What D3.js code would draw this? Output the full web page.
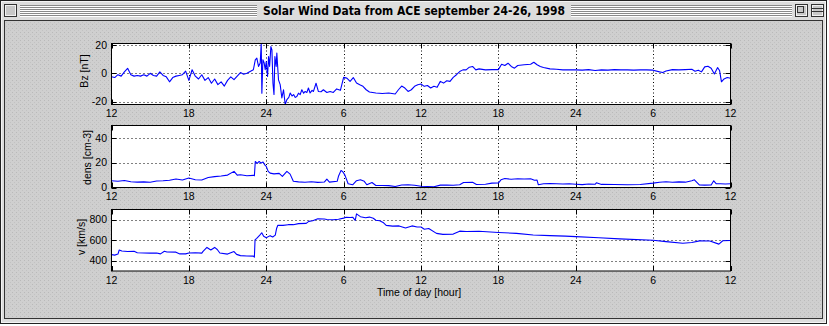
<!DOCTYPE html>
<html><head><meta charset="utf-8">
<script src="https://cdn.jsdelivr.net/npm/d3@7"></script>
<style>body{margin:0;background:#fff;}svg{display:block;}</style>
</head><body>
<script>
// ---------------- DATA ----------------
const title = "Solar Wind Data from ACE september 24-26, 1998";
const xTickValues = [0,6,12,18,24,30,36,42,48];           // hours since 12:00 Sep 24
const xTickLabels = ["12","18","24","6","12","18","24","6","12"];
const xAxisTitle = "Time of day [hour]";

const bzTime = [0,0.25,0.5,0.75,1,1.25,1.5,1.75,2,2.25,2.5,2.75,3,3.25,3.5,3.75,4,4.25,4.5,4.75,5,5.25,5.5,5.75,6,
6.25,6.5,6.75,7,7.25,7.5,7.75,8,8.25,8.5,8.75,9,9.25,9.5,9.75,10,10.25,10.5,10.75,11,
11.15,11.27,11.4,11.53,11.61,11.66,11.74,11.84,11.92,12,12.1,12.18,12.26,12.36,12.44,12.52,12.6,12.67,12.77,12.82,12.95,13.08,13.21,13.34,13.47,13.6,13.75,13.86,14,14.12,14.25,14.37,14.5,14.63,14.76,14.9,15.02,15.15,15.27,15.4,15.55,15.66,15.86,16.04,16.25,16.43,16.7,16.95,17.2,17.46,17.75,
18,18.25,18.5,18.75,19,19.25,19.5,19.75,20,20.5,21,21.5,22,22.25,22.5,22.75,23,23.25,23.5,23.75,24,24.25,24.5,24.75,25,25.25,25.5,25.75,26,26.25,26.5,26.75,27,27.25,27.5,27.75,28,28.25,28.5,29,29.5,30,30.25,30.5,30.75,31,31.25,31.5,32,32.5,32.75,33,33.25,33.5,34,34.5,35,
36,36.5,37,37.5,38,38.5,39,39.5,40,40.5,41,41.5,42,42.5,42.75,43,43.5,44,44.5,45,45.25,45.5,45.75,46,46.25,46.5,46.75,47,47.15,47.3,47.5,47.75,48];
const bzValue = [-2.5,-3,-1,-2,1,3.5,-1,-2,-1.5,-2,-1,-2,0,-1.5,-2,1,-1.5,-2.5,-6,-3,-2,-1.5,-1,1.5,-5,
2.5,-2,-4,-1,-5,-3,-7,-4,-8,-6,-9,-5,-2.5,-4.5,-2,0.5,-0.7,0,1.3,2.5,
9.5,10.7,4.8,7.2,21,-14,9.5,7.2,2.5,8.3,-2.2,11.8,4.8,18.8,16.5,-7,-15,11.8,4.8,14.2,-4.6,-8,-17.4,-11.6,-22,-18.6,-17,-13.9,-16,-15,-17,-16.3,-14,-15,-11.6,-14,-12.8,-13.5,-10.4,-13.9,-12,-12.8,-7,-12.8,-13,-11.6,-13.5,-12.8,-13.5,-11,-12,
-2.9,-3.4,-5.7,-3,-6.9,-8.1,-9.2,-11.6,-13.2,-13.9,-14.2,-13.9,-14.6,-11.6,-9,-10.4,-12.8,-11.6,-9.2,-8.1,-7.6,-9.2,-8.6,-10.4,-9.2,-9.9,-5.7,-6.9,-5.3,-5.7,-2.9,-1,1.2,2.4,2.4,4.3,4.8,2.4,3.1,2.4,2.6,2.6,6.4,5.5,7.1,4.8,3.6,5.5,6,6.4,7.8,6,4.8,4.1,3.1,2.9,2.4,
2.4,2.2,2.6,2,2.4,2.2,2.6,2.4,2.4,2.2,2.4,2.4,2.2,1,0.5,1.6,2.6,2.4,2.6,2.8,1.5,2.2,1,4.5,5,3.6,-0.5,4,2,-6,-4,-3,-3.5];

const densTime = [0,0.5,1,1.5,2,2.5,3,3.5,4,4.5,5,5.5,6,6.5,7,7.5,8,8.5,9,9.5,9.75,10,10.5,11,11.08,11.15,11.3,11.45,11.6,11.75,11.9,12,12.15,12.3,12.6,13,13.25,13.6,13.85,14.1,14.5,15,15.5,16,16.5,16.7,16.9,17.5,17.6,17.8,17.95,18.1,18.35,18.7,19,19.3,19.6,19.8,20.2,20.5,21,21.5,22,22.5,23,23.5,24,24.5,25,25.5,26,26.5,27,27.3,28,28.3,29,29.5,30,30.2,30.5,31,31.5,32,32.5,32.8,33,33.1,33.5,34,35,35.5,36,36.5,37,37.5,37.6,38,39,40,41,42,42.5,43,43.5,44,44.5,45,45.2,45.6,46,46.5,46.7,46.9,47.2,47.6,48];
const densValue = [5.4,5,5.6,4.6,4.3,4.5,4.2,5.2,5.4,5.8,6.8,6,7.6,6.2,6,8,8.8,9.3,10,13,10,10.3,9.5,9.8,9.5,21,19.5,21,19.7,20.5,18,17,13,11.6,11,11.4,9,13,10.8,5,4.5,4.2,4.6,4.1,4.4,6.8,4.3,5,9,13.8,12.5,10,3,2.2,5.5,6.2,5,2.2,4,1.6,1.6,1.5,0.8,2,2.2,1.8,1,0.8,0.6,1.9,2,1.8,2.2,4,4.2,2.4,2.6,3.5,3.6,6.2,7.2,6.6,7,6.8,7,5.8,6,2.2,3,3.2,2.8,3,2.6,2.3,2.8,2.6,3.8,2.5,2.4,2.2,2.4,3.5,4.2,4.6,4.2,4.5,4.3,5.5,6.2,2,1.9,2,5.4,3,3,2.8,3];

const velTime = [0,0.25,0.5,0.6,0.8,1.25,1.75,2,2.5,3,3.5,3.8,4.1,4.3,5,5.3,5.75,6,6.5,7,7.1,7.4,7.7,8,8.2,8.4,9,9.5,9.7,10,10.5,11,11.08,11.13,11.26,11.5,11.65,11.8,12,12.3,12.5,12.7,12.8,12.9,13.3,13.7,14.1,14.5,15.1,15.3,15.6,16,16.5,16.7,17.2,17.6,18,18.2,18.5,18.7,18.9,19,19.3,19.7,20,20.3,20.5,20.8,21.1,21.3,21.8,22.3,22.8,23.3,23.7,24,24.26,24.6,25.2,25.7,26.5,27,27.5,28.5,30,31.4,32.7,34,35.2,36,37.8,39.4,42,43,44.3,45,45.6,46.4,47.1,47.4,48];
const velValue = [460,455,465,505,495,490,492,478,476,474,476,467,492,485,484,467,467,476,478,474,492,530,505,530,510,476,465,490,462,450,447,445,435,603,619,650,673,638,625,645,632,650,714,746,745,752,752,762,765,784,790,810,808,803,800,805,816,825,822,825,794,857,830,820,826,815,795,790,770,745,738,740,720,740,730,730,708,714,667,657,660,689,686,688,676,667,651,645,640,635,625,613,600,587,571,578,594,592,562,595,597];

const bzTicks = [-20,0,20];
const densTicks = [0,20,40];
const velTicks = [400,600,800];

// ---------------- LAYOUT ----------------
const W = 829, H = 326;
const svg = d3.select("body").append("svg").attr("width", W).attr("height", H);
const defs = svg.append("defs");

// stipple texture
const pat = defs.append("pattern").attr("id","stip").attr("width",4).attr("height",4).attr("patternUnits","userSpaceOnUse");
pat.append("rect").attr("width",4).attr("height",4).attr("fill","#cfcfcf");
pat.append("rect").attr("x",0).attr("y",0).attr("width",1).attr("height",1).attr("fill","#b9b9b9");
pat.append("rect").attr("x",2).attr("y",2).attr("width",1).attr("height",1).attr("fill","#c2c2c2");

// window frame
svg.append("rect").attr("x",0.5).attr("y",0.5).attr("width",826).attr("height",323).attr("fill","#dddddd").attr("stroke","#222");
svg.append("rect").attr("x",1.5).attr("y",1.5).attr("width",824).attr("height",321).attr("fill","none").attr("stroke","#f4f4f4");
// title bar stripes
const stripeG = svg.append("g");
[[20,257],[571,792]].forEach(([a,b])=>{
  for(let i=0;i<6;i++){
    stripeG.append("line").attr("x1",a).attr("x2",b).attr("y1",5.5+2*i).attr("y2",5.5+2*i).attr("stroke","#8a8a8a");
    stripeG.append("line").attr("x1",a).attr("x2",b).attr("y1",6.5+2*i).attr("y2",6.5+2*i).attr("stroke","#ffffff");
  }
});
// window boxes
function winBox(x){
  svg.append("rect").attr("x",x+0.5).attr("y",4.5).attr("width",12).attr("height",12).attr("fill","#c8c8c8").attr("stroke","#333");
  svg.append("rect").attr("x",x+1.5).attr("y",5.5).attr("width",10).attr("height",10).attr("fill","none").attr("stroke","#f2f2f2");
}
winBox(4);
winBox(795);
svg.append("rect").attr("x",797.5).attr("y",6.5).attr("width",6).attr("height",6).attr("fill","none").attr("stroke","#333");
winBox(811);
[8.5,11.5].forEach(y=>svg.append("line").attr("x1",812).attr("x2",823).attr("y1",y).attr("y2",y).attr("stroke","#333"));

svg.append("text").attr("x",414).attr("y",15).attr("text-anchor","middle")
  .attr("font-family","'DejaVu Sans Condensed','Liberation Sans Narrow',sans-serif").attr("font-weight","bold")
  .attr("font-size",13).attr("textLength",302).attr("lengthAdjust","spacingAndGlyphs").attr("fill","#000").text(title);

// content area
svg.append("rect").attr("x",4.5).attr("y",20.5).attr("width",818).attr("height",298).attr("fill","url(#stip)").attr("stroke","#333");

// ---------------- PANELS ----------------
const X0 = 111.5, X1 = 730.5;
const x = d3.scaleLinear().domain([0,48]).range([X0,X1]);
const font = "'Liberation Sans',Arial,Helvetica,sans-serif";

const panels = [
  {top:43.5, bottom:104.5, domain:[-22,21], ticks:bzTicks, label:"Bz [nT]", labelX:88, labelY:71, t:bzTime, v:bzValue},
  {top:125.5, bottom:187.5, domain:[0,50], ticks:densTicks, label:"dens [cm-3]", labelX:90.5, labelY:157.5, t:densTime, v:densValue},
  {top:209.5, bottom:271, domain:[300,900], ticks:velTicks, label:"v [km/s]", labelX:85, labelY:237, t:velTime, v:velValue}
];

panels.forEach((p,i)=>{
  const y = d3.scaleLinear().domain(p.domain).range([p.bottom,p.top]);
  const g = svg.append("g");
  const cid = "clip"+i;
  defs.append("clipPath").attr("id",cid).append("rect").attr("x",X0).attr("y",p.top).attr("width",X1-X0).attr("height",p.bottom-p.top);
  g.append("rect").attr("x",X0).attr("y",p.top).attr("width",X1-X0).attr("height",p.bottom-p.top).attr("fill","#fff");
  // grid
  xTickValues.forEach(tv=>{
    const xx = Math.round(x(tv))+0.5;
    if(tv>0 && tv<48) g.append("line").attr("x1",xx).attr("x2",xx).attr("y1",p.top).attr("y2",p.bottom)
      .attr("stroke","#000").attr("stroke-dasharray","1,2.5");
    g.append("line").attr("x1",xx).attr("x2",xx).attr("y1",p.top).attr("y2",p.top+5).attr("stroke","#000");
    g.append("line").attr("x1",xx).attr("x2",xx).attr("y1",p.bottom).attr("y2",p.bottom-5).attr("stroke","#000");
  });
  p.ticks.forEach(tv=>{
    const yy = Math.round(y(tv))+0.5;
    if(yy>p.top+1 && yy<p.bottom-1) g.append("line").attr("x1",X0).attr("x2",X1).attr("y1",yy).attr("y2",yy)
      .attr("stroke","#000").attr("stroke-dasharray","1,3");
    g.append("line").attr("x1",X0).attr("x2",X0+5).attr("y1",yy).attr("y2",yy).attr("stroke","#000");
    g.append("line").attr("x1",X1).attr("x2",X1-5).attr("y1",yy).attr("y2",yy).attr("stroke","#000");
    g.append("text").attr("x",107).attr("y",y(tv)+3.6).attr("text-anchor","end")
      .attr("font-family",font).attr("font-size",10.5).attr("fill","#000").text(tv);
  });
  // data line
  const pts = p.t.map((t,k)=>[t,p.v[k]]);
  g.append("path").datum(pts).attr("clip-path",`url(#${cid})`)
    .attr("d", d3.line().x(d=>x(d[0])).y(d=>y(d[1])))
    .attr("fill","none").attr("stroke","#0000ff").attr("stroke-width",1.1).attr("stroke-linejoin","round");
  // box
  g.append("rect").attr("x",X0).attr("y",p.top).attr("width",X1-X0).attr("height",p.bottom-p.top)
    .attr("fill","none").attr("stroke","#000");
  // x tick labels
  xTickValues.forEach((tv,k)=>{
    g.append("text").attr("x",x(tv)).attr("y",p.bottom+12.5).attr("text-anchor","middle")
      .attr("font-family",font).attr("font-size",10.5).attr("fill","#000").text(xTickLabels[k]);
  });
  // y label
  g.append("text").attr("transform",`translate(${p.labelX},${p.labelY}) rotate(-90)`).attr("text-anchor","middle")
    .attr("font-family",font).attr("font-size",10.5).attr("fill","#000").text(p.label);
});

svg.append("text").attr("x",419).attr("y",296).attr("text-anchor","middle")
  .attr("font-family",font).attr("font-size",10.5).attr("fill","#000").text(xAxisTitle);
</script>
</body></html>
